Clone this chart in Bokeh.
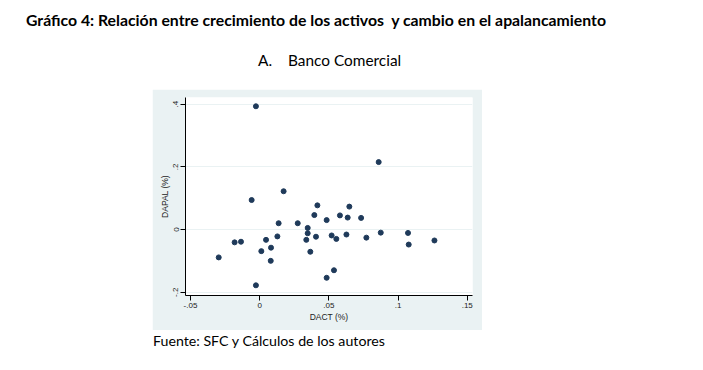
from bokeh.plotting import figure
from bokeh.models import ColumnDataSource, FixedTicker, Div, Spacer
from bokeh.layouts import column, row
from bokeh.embed import file_html
from bokeh.resources import INLINE

# ---- data ----
dact = [-0.0027, 0.0860, 0.0173, -0.0058, 0.0417, 0.0648, 0.0395, 0.0580, 0.0636,
        0.0733, 0.0484, 0.0137, 0.0275, 0.0347, 0.0347, 0.0875, 0.1072, 0.0128,
        0.0407, 0.0520, 0.0627, 0.0554, 0.0771, 0.0046, 0.0337, 0.1263, -0.0181,
        -0.0135, 0.1077, 0.0082, 0.0012, 0.0366, -0.0296, 0.0080, 0.0537, 0.0484,
        -0.0027]
dapal = [0.393, 0.215, 0.122, 0.094, 0.077, 0.073, 0.046, 0.045, 0.038,
         0.037, 0.030, 0.020, 0.020, 0.005, -0.012, -0.010, -0.011, -0.022,
         -0.023, -0.019, -0.016, -0.030, -0.026, -0.033, -0.033, -0.035, -0.041,
         -0.039, -0.048, -0.058, -0.069, -0.071, -0.089, -0.100, -0.130, -0.154,
         -0.178]
x_ticks = [-0.05, 0.0, 0.05, 0.1, 0.15]
x_tick_labels = ["-.05", "0", ".05", ".1", ".15"]
y_ticks = [-0.2, 0.0, 0.2, 0.4]
y_tick_labels = ["-.2", "0", ".2", ".4"]

title_text = "Gráfico 4: Relación entre crecimiento de los activos&nbsp; y cambio en el apalancamiento"
subtitle_a = "A."
subtitle_b = "Banco Comercial"
source_text = "Fuente: SFC y Cálculos de los autores"
x_label = "DACT (%)"
y_label = "DAPAL (%)"

BG = "#eaf2f3"
NAVY = "#1f3a5a"

src = ColumnDataSource(data=dict(x=dact, y=dapal))

p = figure(width=330, height=241, x_range=(-0.0536, 0.1538), y_range=(-0.2105, 0.421),
           output_backend="svg", toolbar_location=None,
           min_border_left=33, min_border_right=10, min_border_top=8, min_border_bottom=35,
           border_fill_color=BG, background_fill_color="white", outline_line_color=None)

p.scatter("x", "y", source=src, size=5, color=NAVY, line_color=NAVY)

p.xaxis.ticker = FixedTicker(ticks=x_ticks)
p.yaxis.ticker = FixedTicker(ticks=y_ticks)
p.xaxis.major_label_overrides = {t: l for t, l in zip(x_ticks, x_tick_labels)}
p.yaxis.major_label_overrides = {t: l for t, l in zip(y_ticks, y_tick_labels)}
p.yaxis.major_label_orientation = "vertical"

for ax in (p.xaxis, p.yaxis):
    ax.axis_line_color = "black"
    ax.axis_line_width = 1
    ax.major_tick_line_color = "black"
    ax.major_tick_out = 5
    ax.major_tick_in = 0
    ax.minor_tick_line_color = None
    ax.major_label_text_font = "Liberation Sans"
    ax.major_label_text_font_size = "8px"
    ax.major_label_text_color = "#222222"
    ax.major_label_standoff = 2
    ax.axis_label_text_font = "Liberation Sans"
    ax.axis_label_text_font_size = "8.5px"
    ax.axis_label_text_font_style = "normal"
    ax.axis_label_text_color = "#222222"
    ax.axis_label_standoff = 1

p.xaxis.axis_label = x_label
p.yaxis.axis_label = y_label

p.xgrid.grid_line_color = None
p.ygrid.grid_line_color = BG
p.ygrid.grid_line_width = 1

font = "Lato"
title_div = Div(
    text=(f'<div style="position:relative;width:695px;height:89px;font-family:{font};color:#000;">'
          f'<span style="position:absolute;left:26px;top:9px;line-height:22px;font-size:15.8px;font-weight:bold;white-space:nowrap;">{title_text}</span>'
          f'<span style="position:absolute;left:258px;top:49px;line-height:22px;font-size:15.4px;white-space:nowrap;">{subtitle_a}</span>'
          f'<span style="position:absolute;left:288px;top:49px;line-height:22px;font-size:15.4px;white-space:nowrap;">{subtitle_b}</span>'
          f'</div>'),
    width=695, height=89, margin=(0, 0, 0, 0))

footer_div = Div(
    text=(f'<div style="position:relative;width:695px;height:34px;font-family:{font};color:#000;">'
          f'<span style="position:absolute;left:153px;top:0px;line-height:22px;font-size:14.2px;white-space:nowrap;">{source_text}</span>'
          f'</div>'),
    width=695, height=34, margin=(0, 0, 0, 0))

layout = column(title_div,
                row(Spacer(width=152, height=241, margin=(0, 0, 0, 0)), p, spacing=0, margin=(0, 0, 0, 0)),
                footer_div, spacing=0, margin=(0, 0, 0, 0))

open("out.html", "w").write(file_html(layout, INLINE))
